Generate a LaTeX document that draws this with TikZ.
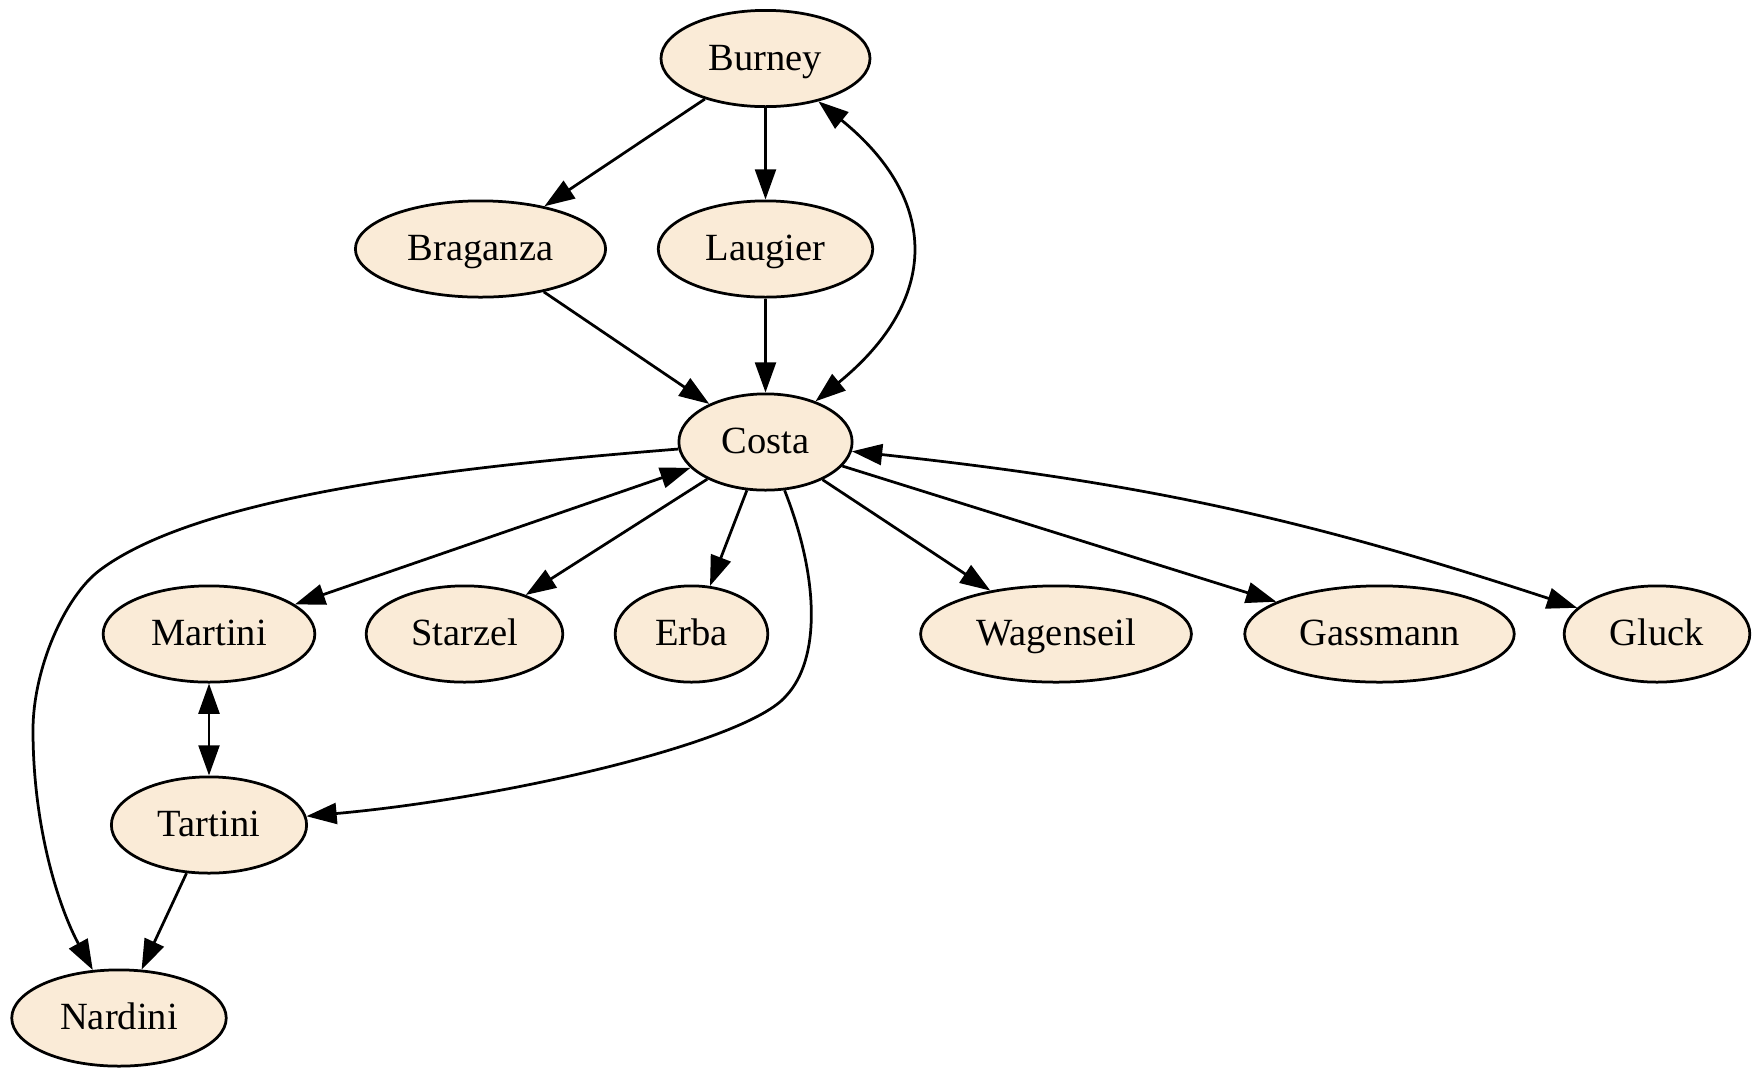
\documentclass[tikz,border=0pt]{standalone}
\usepackage{fontspec}
\setmainfont{Liberation Serif}
\usetikzlibrary{arrows.meta,shapes.geometric}
\definecolor{nodefill}{HTML}{FAEBD7}
\begin{document}
\begin{tikzpicture}[x=0.36364pt,y=-0.36364pt,
  person/.style={ellipse,draw,fill=nodefill,line width=1pt,minimum height=35pt,
    inner sep=0pt,text height=10.4pt,text depth=2pt,font=\fontsize{14}{16}\selectfont},
  tip/.tip={Triangle[length=11pt,width=7.6pt]},
  edge/.style={line width=1pt,-tip},
  both/.style={line width=1pt,tip-tip}]
\useasboundingbox (0,0) rectangle (1760,1078);

% people
\node[person,minimum width=76pt]   (burney)    at (765.5,58.5)  {Burney};
\node[person,minimum width=91pt]   (braganza)  at (480.5,249)   {Braganza};
\node[person,minimum width=78pt]   (laugier)   at (765.5,249)   {Laugier};
\node[person,minimum width=63pt]   (costa)     at (765.5,442)   {Costa};
\node[person,minimum width=77pt]   (martini)   at (209,634)     {Martini};
\node[person,minimum width=71.5pt] (starzel)   at (464.5,634)   {Starzel};
\node[person,minimum width=55.5pt] (erba)      at (691.5,634)   {Erba};
\node[person,minimum width=98.5pt] (wagenseil) at (1056,634)    {Wagenseil};
\node[person,minimum width=98pt]   (gassmann)  at (1379.5,634)  {Gassmann};
\node[person,minimum width=67.5pt] (gluck)     at (1657,634)    {Gluck};
\node[person,minimum width=71pt]   (tartini)   at (209,825)     {Tartini};
\node[person,minimum width=78pt]   (nardini)   at (119,1018)    {Nardini};

% waypoints of the long curved links
\coordinate (nw1) at (100,570);
\coordinate (nw2) at (33,730);
\coordinate (ta1) at (786,696);

% links
\draw[edge] (burney) -- (braganza);
\draw[edge] (burney) -- (laugier);
\draw[both] (burney) .. controls (940,200) and (940,300) .. (costa);
\draw[edge] (braganza) -- (costa);
\draw[edge] (laugier) -- (costa);
\draw[edge] (costa) .. controls (480,465) and (204,492) .. (nw1)
                    .. controls (64,597) and (33,670) .. (nw2)
                    .. controls (33,830) and (60,910) .. (nardini);
\draw[both] (martini) -- (costa);
\draw[edge] (costa) -- (starzel);
\draw[edge] (costa) -- (erba);
\draw[edge] (costa) .. controls (820,580) and (820,660) .. (ta1)
                    .. controls (747,742) and (508,798) .. (tartini);
\draw[edge] (costa) -- (wagenseil);
\draw[edge] (costa) -- (gassmann);
\draw[both] (costa) to[bend left=6] (gluck);
\draw[both] (martini) -- (tartini);
\draw[edge] (tartini) -- (nardini);
\end{tikzpicture}
\end{document}
